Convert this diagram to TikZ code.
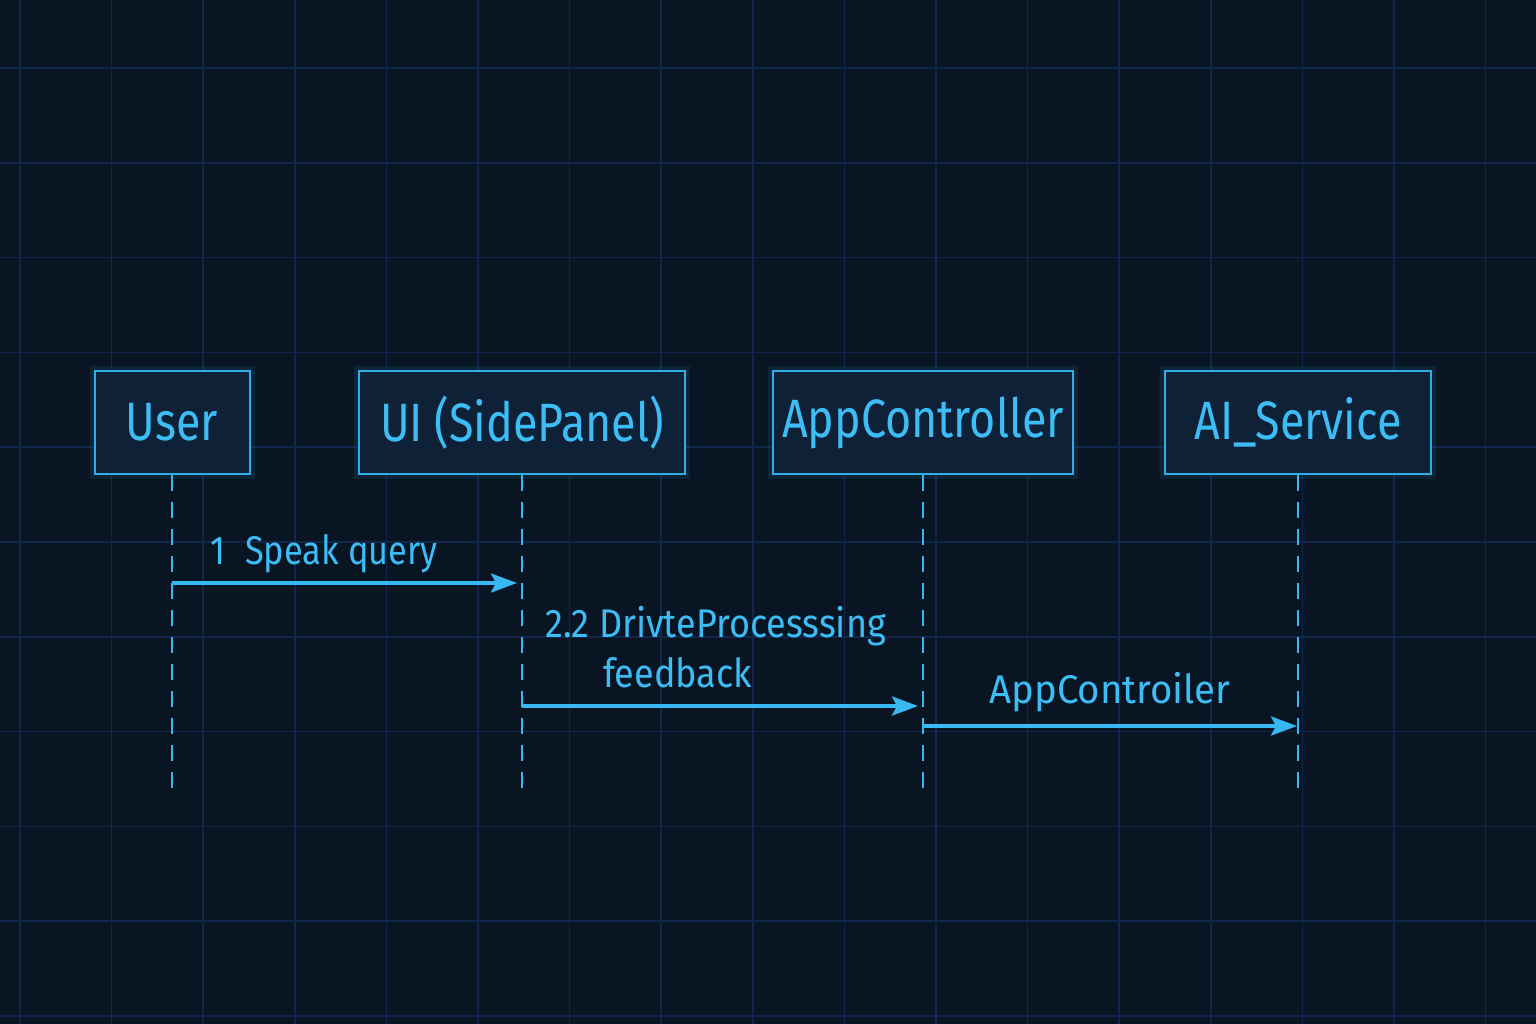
\documentclass[tikz,border=0pt]{standalone}
\usepackage{fontspec}
\setmainfont{Fira Sans}
\newfontfamily\boxfont[FakeStretch=0.83]{Fira Sans}
\newfontfamily\lblfontA[FakeStretch=0.86]{Fira Sans}
\newfontfamily\lblfontB[FakeStretch=0.90]{Fira Sans}
\newfontfamily\lblfontC[FakeStretch=0.96]{Fira Sans}
\usetikzlibrary{arrows.meta}
\definecolor{bg}{HTML}{0A1524}
\definecolor{gridc}{HTML}{10264A}
\definecolor{boxfill}{HTML}{0E2136}
\definecolor{boxline}{HTML}{2FAEE6}
\definecolor{txt}{HTML}{3CBDF5}
\definecolor{arrowc}{HTML}{38B8F2}
\tikzset{
  gridline/.style={draw=gridc, line width=1.6pt},
  actor/.style={draw=boxline, line width=2pt, fill=boxfill, minimum height=103pt,
    inner sep=0pt, text=txt, font=\boxfont\fontsize{54}{60}\selectfont,
    preaction={draw=boxline, line width=10pt, opacity=0.10}},
  lifeline/.style={draw=arrowc, line width=2pt, dash pattern=on 16pt off 11pt},
  msg/.style={draw=arrowc, line width=3.4pt, -{Stealth[length=26pt,width=19pt,inset=5pt]}},
  lbl/.style={text=txt, inner sep=0pt, font=\fontsize{40}{48}\selectfont}
}
\begin{document}
\begin{tikzpicture}[x=1pt,y=-1pt]
\fill[bg] (0,0) rectangle (1536,1024);
\useasboundingbox (0,0) rectangle (1536,1024);
\foreach \i in {0,...,16} \draw[gridline] ({20+91.6*\i},0) -- ({20+91.6*\i},1024);
\foreach \j in {0,...,10} \draw[gridline] (0,{68+94.8*\j}) -- (1536,{68+94.8*\j});

\node[actor, minimum width=155pt] (user) at (172,422.5) {\raisebox{-4pt}{User}};
\node[actor, minimum width=326pt] (ui) at (522,422.5) {\raisebox{-4pt}{UI (SidePanel)}};
\node[actor, minimum width=300pt] (ac) at (923,422.5) {\raisebox{-4pt}{AppController}};
\node[actor, minimum width=266pt] (ai) at (1298,422.5) {\raisebox{-4pt}{AI\_Service}};

\coordinate (userEnd) at (172,790);
\coordinate (uiEnd) at (522,790);
\coordinate (acEnd) at (923,790);
\coordinate (aiEnd) at (1298,790);
\draw[lifeline] (user.south) -- (userEnd);
\draw[lifeline] (ui.south) -- (uiEnd);
\draw[lifeline] (ac.south) -- (acEnd);
\draw[lifeline] (ai.south) -- (aiEnd);

\coordinate (m1a) at (172,583);
\coordinate (m1b) at (517,583);
\coordinate (m2a) at (522,706);
\coordinate (m2b) at (918,706);
\coordinate (m3a) at (923,726);
\coordinate (m3b) at (1297,726);
\draw[msg] (m1a) -- (m1b);
\draw[msg] (m2a) -- (m2b);
\draw[msg] (m3a) -- (m3b);

\node[lbl, anchor=base west] (l1) at (210,564) {\lblfontA 1\hspace{0.5em}Speak query};
\node[lbl, anchor=base west] (l2a) at (545,637) {\lblfontB 2.2 DrivteProcesssing};
\node[lbl, anchor=base west] (l2b) at (603,687) {\lblfontB feedback};
\node[lbl, anchor=base] (l3) at (1110,703) {\lblfontC AppControiler};
\end{tikzpicture}
\end{document}
